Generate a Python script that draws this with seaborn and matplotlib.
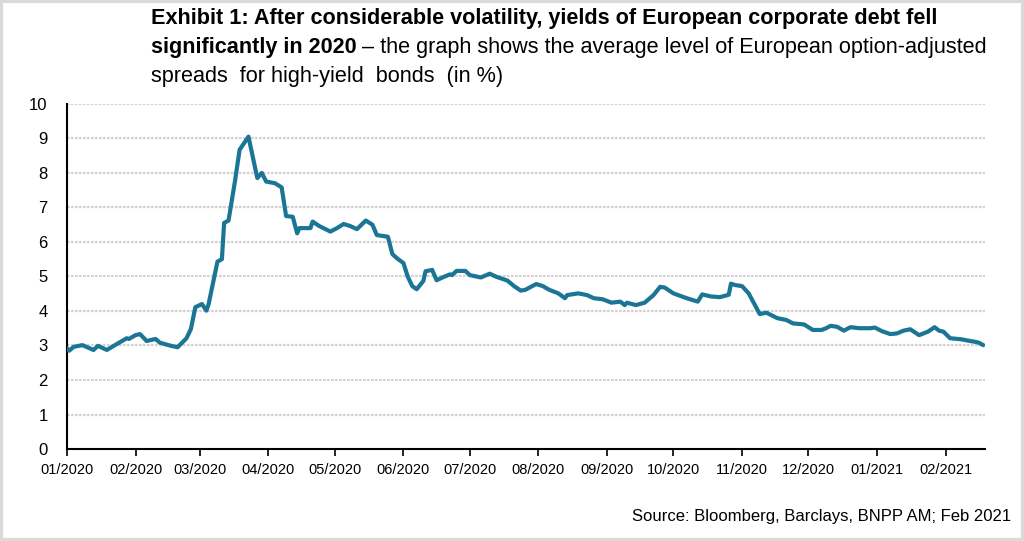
#!/usr/bin/env python3
import numpy as np
import pandas as pd
import seaborn as sns
import matplotlib as mpl
import matplotlib.pyplot as plt
import matplotlib.dates as mdates
from matplotlib import font_manager
from matplotlib.patches import Rectangle

# ---- data (approximate) ----
dates = [
    "2020-01-01", "2020-01-02", "2020-01-04", "2020-01-08", "2020-01-13", "2020-01-15",
    "2020-01-19", "2020-01-28", "2020-01-29", "2020-02-01", "2020-02-03", "2020-02-06",
    "2020-02-10", "2020-02-12", "2020-02-17", "2020-02-20", "2020-02-24", "2020-02-26",
    "2020-02-28", "2020-03-02", "2020-03-04", "2020-03-05", "2020-03-09", "2020-03-11",
    "2020-03-12", "2020-03-14", "2020-03-17", "2020-03-19", "2020-03-23", "2020-03-27",
    "2020-03-29", "2020-03-31", "2020-04-04", "2020-04-07", "2020-04-09", "2020-04-12",
    "2020-04-14", "2020-04-15", "2020-04-20", "2020-04-21", "2020-04-24", "2020-04-29",
    "2020-05-02", "2020-05-05", "2020-05-08", "2020-05-11", "2020-05-15", "2020-05-18",
    "2020-05-20", "2020-05-25", "2020-05-27", "2020-05-29", "2020-06-01", "2020-06-03",
    "2020-06-05", "2020-06-07", "2020-06-10", "2020-06-11", "2020-06-14", "2020-06-16",
    "2020-06-19", "2020-06-22", "2020-06-23", "2020-06-25", "2020-06-29", "2020-07-01",
    "2020-07-06", "2020-07-10", "2020-07-13", "2020-07-18", "2020-07-21", "2020-07-24",
    "2020-07-26", "2020-07-31", "2020-08-03", "2020-08-06", "2020-08-10", "2020-08-13",
    "2020-08-14", "2020-08-19", "2020-08-23", "2020-08-26", "2020-08-30", "2020-09-03",
    "2020-09-07", "2020-09-09", "2020-09-10", "2020-09-14", "2020-09-18", "2020-09-22",
    "2020-09-25", "2020-09-27", "2020-10-01", "2020-10-07", "2020-10-12", "2020-10-14",
    "2020-10-18", "2020-10-22", "2020-10-26", "2020-10-27", "2020-10-29", "2020-11-01",
    "2020-11-04", "2020-11-06", "2020-11-09", "2020-11-12", "2020-11-17", "2020-11-21",
    "2020-11-24", "2020-11-29", "2020-12-03", "2020-12-07", "2020-12-09", "2020-12-11",
    "2020-12-14", "2020-12-17", "2020-12-20", "2020-12-24", "2020-12-29", "2020-12-31",
    "2021-01-03", "2021-01-07", "2021-01-10", "2021-01-13", "2021-01-16", "2021-01-20",
    "2021-01-24", "2021-01-27", "2021-01-29", "2021-01-31", "2021-02-03", "2021-02-08",
    "2021-02-12", "2021-02-14", "2021-02-16", "2021-02-18",
]
spreads = [
    2.92, 2.85, 2.96, 3.01, 2.87, 2.99,
    2.87, 3.21, 3.19, 3.30, 3.33, 3.13,
    3.19, 3.08, 2.99, 2.95, 3.21, 3.48,
    4.11, 4.20, 4.01, 4.20, 5.43, 5.50,
    6.55, 6.62, 7.80, 8.67, 9.05, 7.85,
    8.00, 7.75, 7.70, 7.58, 6.75, 6.73,
    6.25, 6.40, 6.40, 6.59, 6.46, 6.30,
    6.40, 6.52, 6.46, 6.37, 6.62, 6.50,
    6.20, 6.15, 5.65, 5.53, 5.39, 4.99,
    4.72, 4.63, 4.87, 5.15, 5.19, 4.89,
    4.98, 5.06, 5.04, 5.16, 5.16, 5.04,
    4.97, 5.08, 4.99, 4.88, 4.72, 4.59,
    4.61, 4.78, 4.72, 4.61, 4.51, 4.37,
    4.46, 4.51, 4.46, 4.37, 4.34, 4.24,
    4.27, 4.17, 4.24, 4.17, 4.24, 4.46,
    4.70, 4.68, 4.51, 4.37, 4.27, 4.48,
    4.42, 4.40, 4.47, 4.79, 4.75, 4.72,
    4.51, 4.27, 3.91, 3.95, 3.79, 3.74,
    3.64, 3.61, 3.45, 3.45, 3.50, 3.57,
    3.54, 3.43, 3.53, 3.50, 3.50, 3.52,
    3.42, 3.33, 3.35, 3.43, 3.47, 3.30,
    3.40, 3.53, 3.43, 3.40, 3.21, 3.18,
    3.13, 3.11, 3.08, 3.01,
]
y_ticks = list(range(0, 11))

title_bold_1 = "Exhibit 1: After considerable volatility, yields of European corporate debt fell"
title_bold_2 = "significantly in 2020"
title_reg_2 = " \u2013 the graph shows the average level of European option-adjusted"
title_reg_3 = "spreads  for high-yield  bonds  (in %)"
source_text = "Source: Bloomberg, Barclays, BNPP AM; Feb 2021"

# ---- styling ----
sns.set_theme(style="white")
available = {f.name for f in font_manager.fontManager.ttflist}
narrow = "Liberation Sans Narrow" if "Liberation Sans Narrow" in available else "Liberation Sans"
plt.rcParams['font.family'] = [narrow, 'DejaVu Sans']

LINE_COLOR = "#1b7594"
TITLE_SIZE = 15.6

df = pd.DataFrame({"date": pd.to_datetime(dates), "spread": spreads})

fig = plt.figure(figsize=(10.24, 5.41), dpi=100)
ax = fig.add_axes([0.0654, 0.170, 0.897, 0.638])

# grid first so the line sits on top
for v in y_ticks[1:]:
    ax.axhline(v, color="#d2d2d2", linewidth=1.6, linestyle=(0, (1.2, 0.6)), zorder=1)

sns.lineplot(data=df, x="date", y="spread", ax=ax, color=LINE_COLOR,
             linewidth=3.0, zorder=3)

ax.set_xlim(pd.Timestamp("2020-01-01"), pd.Timestamp("2021-02-19"))
ax.set_ylim(0, 10)
ax.set_yticks(y_ticks)
ax.xaxis.set_major_locator(mdates.MonthLocator())
ax.xaxis.set_major_formatter(mdates.DateFormatter("%m/%Y"))
ax.set_xlabel("")
ax.set_ylabel("")
ax.grid(False)

for side in ["top", "right"]:
    ax.spines[side].set_visible(False)
for side in ["left", "bottom"]:
    ax.spines[side].set_color("black")
    ax.spines[side].set_linewidth(1.5)

ax.tick_params(axis="x", which="major", direction="out", length=5, width=1.2,
               color="black", labelsize=10.5, labelcolor="black", pad=5, bottom=True)
ax.tick_params(axis="y", length=0, labelsize=12, labelcolor="black", pad=14)

# ---- title (mixed bold / regular) ----
fig.text(0.147, 0.966, title_bold_1, fontsize=TITLE_SIZE, fontweight="bold",
         ha="left", va="center", color="black")
t2 = fig.text(0.147, 0.912, title_bold_2, fontsize=TITLE_SIZE, fontweight="bold",
              ha="left", va="center", color="black")
fig.draw_without_rendering()
bb = t2.get_window_extent()
x_after = bb.x1 / fig.bbox.width
fig.text(x_after, 0.912, title_reg_2, fontsize=TITLE_SIZE, ha="left", va="center", color="black")
fig.text(0.147, 0.858, title_reg_3, fontsize=TITLE_SIZE, ha="left", va="center", color="black")

fig.text(0.987, 0.046, source_text, fontsize=12, ha="right", va="center", color="black")

# light grey frame around the image
fig.patches.append(Rectangle((0, 0), 1, 1, transform=fig.transFigure, fill=False,
                             edgecolor="#d9d9d9", linewidth=4.5, zorder=10))

fig.savefig("out.png", dpi=100)
